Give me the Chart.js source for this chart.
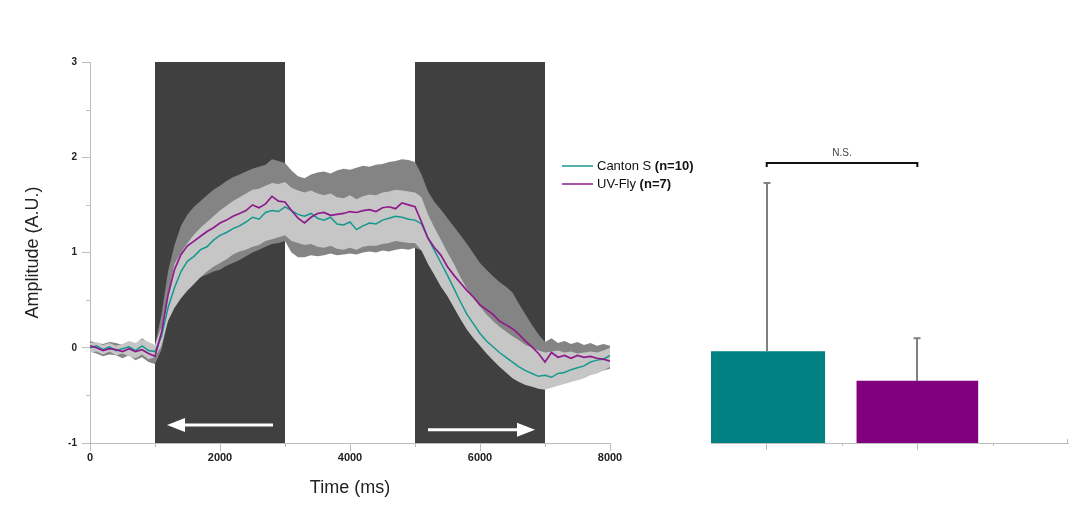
<!DOCTYPE html>
<html><head><meta charset="utf-8">
<script src="https://cdn.jsdelivr.net/npm/chart.js@4.4.0/dist/chart.umd.min.js"></script>
<style>
html,body{margin:0;padding:0;background:#fff;}
#wrap{position:relative;width:1078px;height:509px;overflow:hidden;}
#c1{position:absolute;left:0;top:0;width:1078px;height:509px;}
#c2{position:absolute;left:660px;top:0;width:418px;height:509px;}
</style></head><body>
<div id="wrap"><canvas id="c1" width="1078" height="509"></canvas><canvas id="c2" width="418" height="509"></canvas></div>
<script>
// ---------- DATA ----------
const times = [0,100,200,300,400,500,600,700,800,900,
 1000,1100,1200,1300,1400,1500,1600,1700,1800,1900,
 2000,2100,2200,2300,2400,2500,2600,2700,2800,2900,
 3000,3100,3200,3300,3400,3500,3600,3700,3800,3900,
 4000,4100,4200,4300,4400,4500,4600,4700,4800,4900,
 5000,5100,5200,5300,5400,5500,5600,5700,5800,5900,
 6000,6100,6200,6300,6400,6500,6600,6700,6800,6900,
 7000,7100,7200,7300,7400,7500,7600,7700,7800,7900,
 8000];

const cantonMean = [0.00,0.02,-0.02,0.01,-0.03,-0.01,0.01,-0.03,0.02,-0.03,
 -0.04,0.12,0.42,0.63,0.80,0.91,0.96,1.03,1.06,1.13,
 1.18,1.21,1.25,1.28,1.32,1.37,1.35,1.42,1.44,1.43,
 1.48,1.44,1.40,1.38,1.41,1.36,1.34,1.37,1.30,1.29,
 1.32,1.24,1.28,1.31,1.30,1.34,1.36,1.38,1.37,1.35,
 1.34,1.30,1.15,1.02,0.89,0.76,0.62,0.48,0.35,0.25,
 0.15,0.07,0.01,-0.05,-0.10,-0.15,-0.20,-0.24,-0.27,-0.30,
 -0.29,-0.31,-0.27,-0.26,-0.23,-0.21,-0.19,-0.15,-0.13,-0.12,
 -0.08];

const uvMean = [0.02,0.00,-0.03,-0.01,-0.02,-0.04,-0.01,-0.04,-0.02,-0.06,
 -0.09,0.16,0.55,0.82,0.98,1.07,1.12,1.17,1.22,1.26,
 1.31,1.34,1.38,1.41,1.44,1.50,1.47,1.51,1.59,1.54,
 1.53,1.44,1.36,1.31,1.37,1.41,1.42,1.39,1.40,1.41,
 1.43,1.42,1.44,1.45,1.43,1.47,1.48,1.46,1.52,1.50,
 1.48,1.32,1.15,1.05,0.97,0.85,0.76,0.68,0.60,0.53,
 0.45,0.40,0.35,0.28,0.24,0.20,0.14,0.07,0.01,-0.06,
 -0.15,-0.05,-0.10,-0.08,-0.11,-0.08,-0.10,-0.09,-0.11,-0.12,
 -0.14];

const cantonHi = [0.05,0.06,0.03,0.05,0.02,0.04,0.07,0.05,0.09,0.06,
 0.03,0.22,0.56,0.88,1.00,1.10,1.19,1.26,1.32,1.38,
 1.44,1.49,1.54,1.58,1.62,1.66,1.67,1.70,1.73,1.72,
 1.74,1.68,1.65,1.63,1.65,1.62,1.60,1.62,1.58,1.57,
 1.60,1.56,1.59,1.61,1.60,1.63,1.64,1.66,1.65,1.64,
 1.63,1.58,1.40,1.26,1.13,1.00,0.88,0.74,0.62,0.52,
 0.43,0.35,0.28,0.22,0.17,0.12,0.08,0.03,0.00,-0.03,
 -0.05,-0.04,-0.03,-0.05,-0.04,-0.06,-0.05,-0.04,-0.05,-0.03,
 0.00];

const cantonLo = [-0.05,-0.04,-0.07,-0.04,-0.08,-0.06,-0.09,-0.11,-0.07,-0.12,
 -0.10,0.02,0.28,0.42,0.52,0.60,0.67,0.74,0.80,0.85,
 0.89,0.93,0.98,1.01,1.03,1.06,1.08,1.12,1.14,1.16,
 1.18,1.12,1.10,1.08,1.09,1.06,1.05,1.07,1.04,1.03,
 1.05,1.03,1.06,1.07,1.07,1.09,1.10,1.12,1.11,1.10,
 1.10,1.02,0.88,0.76,0.64,0.54,0.42,0.30,0.19,0.10,
 0.02,-0.06,-0.13,-0.20,-0.26,-0.32,-0.36,-0.39,-0.41,-0.43,
 -0.44,-0.42,-0.40,-0.38,-0.36,-0.34,-0.32,-0.29,-0.27,-0.24,
 -0.20];

const uvHi = [0.07,0.05,0.04,0.06,0.05,0.03,0.06,0.04,0.10,0.05,
 0.02,0.35,0.80,1.08,1.28,1.40,1.48,1.54,1.60,1.66,
 1.70,1.75,1.79,1.82,1.85,1.88,1.90,1.92,1.98,1.96,
 1.94,1.86,1.80,1.78,1.82,1.84,1.85,1.83,1.86,1.88,
 1.87,1.89,1.91,1.90,1.92,1.93,1.95,1.96,1.98,1.97,
 1.95,1.82,1.64,1.53,1.45,1.36,1.27,1.18,1.09,0.99,
 0.89,0.82,0.75,0.69,0.64,0.58,0.46,0.35,0.24,0.14,
 0.06,0.10,0.05,0.07,0.04,0.06,0.03,0.05,0.02,0.04,
 0.02];

const uvLo = [-0.04,-0.06,-0.09,-0.07,-0.08,-0.11,-0.08,-0.13,-0.10,-0.15,
 -0.17,-0.02,0.30,0.52,0.62,0.68,0.72,0.74,0.77,0.80,
 0.82,0.86,0.89,0.92,0.96,1.00,1.03,1.06,1.09,1.10,
 1.12,1.00,0.95,0.95,0.97,0.96,0.97,0.99,0.97,0.98,
 0.99,0.98,1.00,1.01,1.00,1.02,1.01,1.03,1.04,1.03,
 1.05,1.02,0.90,0.80,0.72,0.62,0.54,0.46,0.38,0.32,
 0.26,0.22,0.17,0.12,0.08,0.04,-0.01,-0.07,-0.13,-0.20,
 -0.30,-0.36,-0.38,-0.35,-0.33,-0.31,-0.29,-0.27,-0.25,-0.24,
 -0.22];

const stimBoxes = [[1000,3000],[5000,7000]];
const stimArrows = [{from:2815,to:1185,y:-0.81},{from:5200,to:6846,y:-0.86}];
const xTickVals = [0,2000,4000,6000,8000];
const xMinorVals = [1000,3000,5000,7000];
const yMinorVals = [-0.5,0.5,1.5,2.5];

const seriesNames = ['Canton S','UV-Fly'];
const seriesN = ['(n=10)','(n=7)'];

const barPos = [1,2];
const barMeans = [0.96,0.65];
const barErrs = [1.77,0.45];
const barTicks = [1,2];
const barMinorTicks = [1.5,2.5];
const bracketY = 2.94;
const bracketLabel = 'N.S.';

// ---------- STYLE ----------
const TEAL_LINE = '#15998f', PURPLE_LINE = '#8e1a8c';
const TEAL_BAR = '#008080', PURPLE_BAR = '#800080';
const LIGHT_BAND = '#c6c6c6', DARK_BAND = '#848484';
const AXIS = '#bdbdbd';

Chart.defaults.font.family = '"Liberation Sans", Arial, Helvetica, sans-serif';
Chart.defaults.color = '#222';
Chart.defaults.animation = false;

const pts = arr => times.map((t,i)=>({x:t,y:arr[i]}));

const shadePlugin = {
  id:'shade',
  beforeDatasetsDraw(chart){
    const {ctx, chartArea:a, scales:{x,y}} = chart;
    ctx.save();
    ctx.fillStyle = '#404040';
    stimBoxes.forEach(([s,e])=>{
      const x0=x.getPixelForValue(s), x1=x.getPixelForValue(e);
      ctx.fillRect(x0, a.top, x1-x0, a.bottom-a.top);
    });
    ctx.strokeStyle='#fff'; ctx.fillStyle='#fff'; ctx.lineWidth=3;
    stimArrows.forEach(ar=>{
      const xa=x.getPixelForValue(ar.from), xb=x.getPixelForValue(ar.to), yy=y.getPixelForValue(ar.y);
      const dir=Math.sign(xb-xa), head=18;
      ctx.beginPath(); ctx.moveTo(xa,yy); ctx.lineTo(xb-dir*head,yy); ctx.stroke();
      ctx.beginPath(); ctx.moveTo(xb,yy); ctx.lineTo(xb-dir*head,yy-7); ctx.lineTo(xb-dir*head,yy+7); ctx.closePath(); ctx.fill();
    });
    ctx.restore();
  },
  afterDraw(chart){
    const {ctx, chartArea:a, scales:{x,y}} = chart;
    ctx.save();
    ctx.strokeStyle = AXIS; ctx.lineWidth = 1;
    yMinorVals.forEach(v=>{
      const py = Math.round(y.getPixelForValue(v))+0.5;
      ctx.beginPath(); ctx.moveTo(a.left-4,py); ctx.lineTo(a.left,py); ctx.stroke();
    });
    xMinorVals.forEach(v=>{
      const px = Math.round(x.getPixelForValue(v))+0.5;
      ctx.beginPath(); ctx.moveTo(px,a.bottom); ctx.lineTo(px,a.bottom+4); ctx.stroke();
    });
    // legend
    const lx0=562, lx1=593, ly=[166,184];
    const cols=[TEAL_LINE,PURPLE_LINE];
    seriesNames.forEach((nm,i)=>{
      ctx.strokeStyle=cols[i]; ctx.lineWidth=1.5;
      ctx.beginPath(); ctx.moveTo(lx0,ly[i]); ctx.lineTo(lx1,ly[i]); ctx.stroke();
      ctx.fillStyle='#111'; ctx.textBaseline='middle'; ctx.textAlign='left';
      ctx.font='13px "Liberation Sans", Arial, sans-serif';
      const t1 = nm+' ';
      ctx.fillText(t1, 597, ly[i]);
      const w = ctx.measureText(t1).width;
      ctx.font='bold 13px "Liberation Sans", Arial, sans-serif';
      ctx.fillText(seriesN[i], 597+w, ly[i]);
    });
    ctx.restore();
  }
};

new Chart(document.getElementById('c1'), {
  type:'line',
  data:{datasets:[
    {label:'Canton S', data:pts(cantonMean), borderColor:TEAL_LINE, borderWidth:1.5, pointRadius:0, fill:false, order:1, tension:0},
    {label:'UV-Fly', data:pts(uvMean), borderColor:PURPLE_LINE, borderWidth:1.7, pointRadius:0, fill:false, order:0, tension:0},
    {label:'cHi', data:pts(cantonHi), borderColor:'rgba(0,0,0,0)', borderWidth:0, backgroundColor:LIGHT_BAND, pointRadius:0, fill:'+1', order:3},
    {label:'cLo', data:pts(cantonLo), borderColor:'rgba(0,0,0,0)', borderWidth:0, pointRadius:0, fill:false, order:3},
    {label:'uHi', data:pts(uvHi), borderColor:'rgba(0,0,0,0)', borderWidth:0, backgroundColor:DARK_BAND, pointRadius:0, fill:'+1', order:5},
    {label:'uLo', data:pts(uvLo), borderColor:'rgba(0,0,0,0)', borderWidth:0, pointRadius:0, fill:false, order:5}
  ]},
  options:{
    responsive:false, animation:false,
    layout:{padding:{top:62,right:468,left:0,bottom:0}},
    plugins:{legend:{display:false}, tooltip:{enabled:false}},
    scales:{
      x:{type:'linear', min:0, max:8000,
        afterBuildTicks:s=>{s.ticks = xTickVals.map(v=>({value:v}));},
        afterFit:s=>{s.height=66;},
        ticks:{font:{size:11,weight:'bold'}, color:'#222', padding:0, maxRotation:0, callback:v=>String(v)},
        grid:{drawOnChartArea:false, tickLength:8, color:AXIS},
        border:{color:AXIS},
        title:{display:true, text:'Time (ms)', font:{size:18}, color:'#222', padding:{top:0,bottom:10}}
      },
      y:{min:-1, max:3,
        ticks:{stepSize:1, font:{size:10,weight:'bold'}, color:'#222', padding:5, callback:v=>String(v)},
        afterFit:s=>{s.width=90;},
        grid:{drawOnChartArea:false, tickLength:8, color:AXIS},
        border:{color:AXIS},
        title:{display:true, text:'Amplitude (A.U.)', font:{size:18}, color:'#222', padding:{top:22,bottom:0}}
      }
    }
  },
  plugins:[shadePlugin]
});

const barPlugin = {
  id:'errs',
  afterDatasetsDraw(chart){
    const {ctx, chartArea:a, scales:{x,y}} = chart;
    ctx.save();
    ctx.strokeStyle='#808080'; ctx.lineWidth=2;
    barPos.forEach((p,i)=>{
      const px=Math.round(x.getPixelForValue(p));
      const y0=y.getPixelForValue(barMeans[i]), y1=y.getPixelForValue(barMeans[i]+barErrs[i]);
      ctx.beginPath(); ctx.moveTo(px,y0); ctx.lineTo(px,y1); ctx.stroke();
      ctx.beginPath(); ctx.moveTo(px-3.5,y1); ctx.lineTo(px+3.5,y1); ctx.stroke();
    });
    const bx0=x.getPixelForValue(barPos[0]), bx1=x.getPixelForValue(barPos[1]), by=y.getPixelForValue(bracketY);
    ctx.strokeStyle='#111'; ctx.lineWidth=2;
    ctx.beginPath(); ctx.moveTo(bx0,by+4); ctx.lineTo(bx0,by); ctx.lineTo(bx1,by); ctx.lineTo(bx1,by+4); ctx.stroke();
    ctx.fillStyle='#444'; ctx.font='10px "Liberation Sans", Arial, sans-serif';
    ctx.textAlign='center'; ctx.textBaseline='middle';
    ctx.fillText(bracketLabel,(bx0+bx1)/2,by-10);
    ctx.strokeStyle=AXIS; ctx.lineWidth=1;
    barMinorTicks.forEach(v=>{
      const px=Math.round(x.getPixelForValue(v))+0.5;
      ctx.beginPath(); ctx.moveTo(px,a.bottom); ctx.lineTo(px,a.bottom+3); ctx.stroke();
    });
    ctx.beginPath(); ctx.moveTo(a.right-0.5,a.bottom); ctx.lineTo(a.right-0.5,a.bottom-4); ctx.stroke();
    ctx.restore();
  }
};

new Chart(document.getElementById('c2'), {
  type:'bar',
  data:{datasets:[
    {data:[{x:barPos[0],y:barMeans[0]}], backgroundColor:TEAL_BAR, barThickness:116, grouped:false},
    {data:[{x:barPos[1],y:barMeans[1]}], backgroundColor:PURPLE_BAR, barThickness:121, grouped:false}
  ]},
  options:{
    responsive:false, animation:false,
    layout:{padding:{top:62,right:10,left:51,bottom:0}},
    plugins:{legend:{display:false}, tooltip:{enabled:false}},
    scales:{
      x:{type:'linear', min:0.63, max:3.0, offset:false,
        afterBuildTicks:s=>{s.ticks = barTicks.map(v=>({value:v}));},
        afterFit:s=>{s.height=66;},
        ticks:{callback:()=>''},
        grid:{drawOnChartArea:false, tickLength:7, color:AXIS, offset:false},
        border:{color:AXIS}
      },
      y:{display:false, min:0, max:4}
    }
  },
  plugins:[barPlugin]
});
</script>
</body></html>
